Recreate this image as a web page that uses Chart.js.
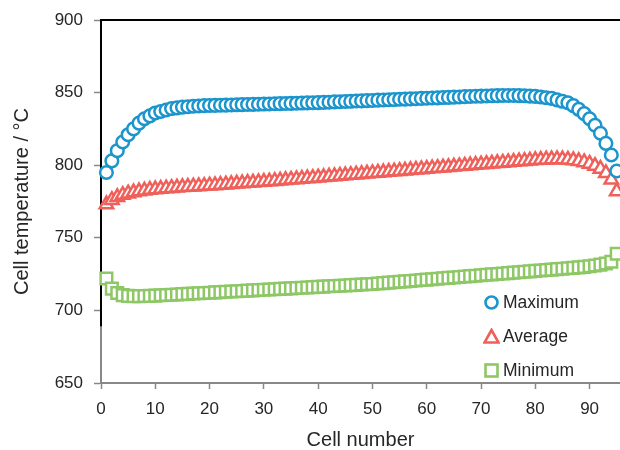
<!DOCTYPE html>
<html><head><meta charset="utf-8">
<script src="https://cdn.jsdelivr.net/npm/chart.js@4/dist/chart.umd.min.js"></script>
<style>
html,body{margin:0;padding:0;background:#fff;}
#wrap{position:relative;width:620px;height:450px;overflow:hidden;}
canvas{display:block}
#legend{position:absolute;left:483px;top:285px;font-family:"Liberation Sans",Arial,sans-serif;font-size:17.5px;color:#262626;}
#legend .row{height:34px;display:flex;align-items:center}
#legend svg{margin-right:3px}
</style></head><body>
<div id="wrap"><canvas id="c" width="620" height="450"></canvas>
<div id="legend">
<div class="row"><svg width="17" height="17"><circle cx="8.5" cy="8.5" r="6" fill="#fff" stroke="#1b95cc" stroke-width="2.6"/></svg><span>Maximum</span></div>
<div class="row"><svg width="17" height="17"><polygon points="8.5,2 15.5,14.5 1.5,14.5" fill="#fff" stroke="#f0605a" stroke-width="2.6"/></svg><span>Average</span></div>
<div class="row"><svg width="17" height="17"><rect x="2.5" y="2.5" width="12" height="12" fill="#fff" stroke="#8dc766" stroke-width="2.6"/></svg><span>Minimum</span></div>
</div></div>
<script>
const cells = [1,2,3,4,5,6,7,8,9,10,11,12,13,14,15,16,17,18,19,20,21,22,23,24,25,26,27,28,29,30,31,32,33,34,35,36,37,38,39,40,41,42,43,44,45,46,47,48,49,50,51,52,53,54,55,56,57,58,59,60,61,62,63,64,65,66,67,68,69,70,71,72,73,74,75,76,77,78,79,80,81,82,83,84,85,86,87,88,89,90,91,92,93,94,95];
const maximum = [795,803,810,816,821,825,829,832,834,836,
837,838,839,839.5,840,840.3,840.6,840.8,841,841.1,
841.2,841.3,841.4,841.5,841.6,841.7,841.8,841.9,842,842.1,
842.2,842.3,842.4,842.5,842.6,842.7,842.8,842.9,843,843.1,
843.3,843.4,843.6,843.7,843.9,844,844.2,844.3,844.5,844.6,
844.8,844.9,845.1,845.2,845.4,845.5,845.7,845.8,846,846.1,
846.3,846.4,846.6,846.7,846.9,847,847.2,847.3,847.5,847.6,
847.7,847.8,847.9,848,848,848,847.9,847.8,847.6,847.4,
847,846.5,846,845,844,843,841,838.5,835.5,832,
827.5,822,815,807,796];
const average = [773,776,778,779.5,780.5,781.3,782,782.5,783,783.4,
783.7,784,784.3,784.6,784.9,785.1,785.3,785.5,785.7,786,
786.2,786.5,786.7,787,787.3,787.5,787.8,788,788.3,788.5,
788.8,789.1,789.4,789.7,790,790.3,790.6,790.9,791.2,791.5,
791.8,792.1,792.4,792.7,793,793.3,793.6,793.9,794.2,794.5,
794.8,795.1,795.4,795.7,796,796.3,796.6,796.9,797.2,797.5,
797.8,798.1,798.4,798.7,799,799.3,799.6,799.9,800.2,800.5,
800.8,801.1,801.4,801.7,802,802.3,802.6,802.9,803.2,803.5,
803.7,803.9,804,804.1,804,803.8,803.4,802.8,802,801,
799.5,797.5,794.5,790,782];
const minimum = [722,715,712,710.5,710,709.8,709.8,709.9,710,710.2,
710.4,710.6,710.8,711,711.2,711.4,711.6,711.8,712,712.2,
712.4,712.6,712.8,713,713.2,713.4,713.6,713.8,714,714.2,
714.4,714.6,714.8,715,715.2,715.4,715.6,715.8,716,716.2,
716.4,716.6,716.8,717,717.2,717.4,717.6,717.8,718,718.2,
718.5,718.8,719.1,719.4,719.7,720,720.3,720.6,720.9,721.2,
721.5,721.8,722.1,722.4,722.7,723,723.3,723.6,723.9,724.2,
724.5,724.8,725.1,725.4,725.7,726,726.3,726.6,726.9,727.2,
727.5,727.8,728.1,728.4,728.7,729,729.3,729.6,730,730.4,
730.9,731.5,732.3,733.5,739];
const xTicks = [0,10,20,30,40,50,60,70,80,90];
const yTicks = [650,700,750,800,850,900];

function pts(vals){ return cells.map((c,i)=>({x:c,y:vals[i]})); }

const FONT = "'Liberation Sans', Arial, sans-serif";
const axisFrame = {
  id:'axisFrame',
  beforeDatasetsDraw(chart){
    const {ctx, chartArea, scales:{y}} = chart;
    ctx.save();
    ctx.strokeStyle='#000'; ctx.lineWidth=2;
    ctx.beginPath();
    ctx.moveTo(chartArea.left, y.getPixelForValue(689));
    ctx.lineTo(chartArea.left, chartArea.top);
    ctx.lineTo(chartArea.right, chartArea.top);
    ctx.stroke();
    ctx.restore();
  }
};

new Chart(document.getElementById('c'), {
  type:'scatter',
  data:{datasets:[
    {label:'Maximum', data:pts(maximum), pointStyle:'circle', pointRadius:6.3, borderWidth:2.5, borderColor:'#1b95cc', backgroundColor:'#fff', clip:false},
    {label:'Average', data:pts(average), pointStyle:'triangle', pointRadius:7.8, borderWidth:2.5, borderColor:'#f0605a', backgroundColor:'#fff', clip:false},
    {label:'Minimum', data:pts(minimum), pointStyle:'rect', pointRadius:8.2, borderWidth:2.5, borderColor:'#8dc766', backgroundColor:'#fff', clip:false}
  ]},
  options:{
    responsive:false, animation:false,
    layout:{autoPadding:false, padding:{top:20,right:0,left:0,bottom:0}},
    plugins:{legend:{display:false}, tooltip:{enabled:false}},
    scales:{
      x:{type:'linear', min:0, max:95.6,
        afterBuildTicks(s){ s.ticks = xTicks.map(v=>({value:v})); },
        afterFit(s){ s.height = 67; s.paddingRight = 0; s.paddingLeft = 0; },
        grid:{drawOnChartArea:false, color:'transparent', tickColor:'#888', tickLength:6, tickWidth:1.5},
        border:{color:'#888', width:2},
        ticks:{font:{family:FONT,size:17}, color:'#262626', padding:10, maxRotation:0},
        title:{display:true, text:'Cell number', font:{family:FONT,size:20}, color:'#262626', padding:{top:0,bottom:-2}}
      },
      y:{type:'linear', min:650, max:900,
        afterBuildTicks(s){ s.ticks = yTicks.map(v=>({value:v})); },
        afterFit(s){ s.width = 101; s.paddingTop = 0; s.paddingBottom = 0; },
        grid:{drawOnChartArea:false, color:'transparent', tickColor:'#888', tickLength:7, tickWidth:1.5},
        border:{color:'#888', width:2},
        ticks:{font:{family:FONT,size:17}, color:'#262626', padding:11},
        title:{display:true, text:'Cell temperature / °C', font:{family:FONT,size:20}, color:'#262626', padding:{top:10,bottom:0}}
      }
    }
  },
  plugins:[axisFrame]
});
</script>
</body></html>
